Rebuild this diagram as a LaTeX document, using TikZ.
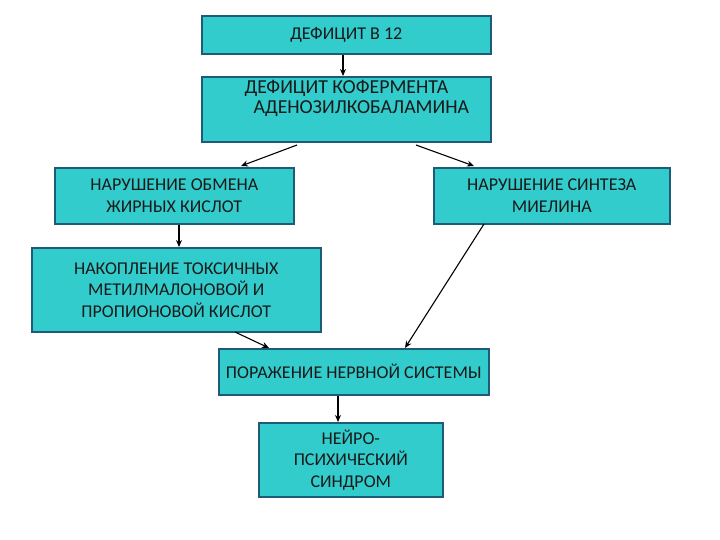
\documentclass[tikz,border=0pt]{standalone}
\usepackage{fontspec}
\setmainfont{Carlito}
\usetikzlibrary{arrows.meta}
\definecolor{boxfill}{HTML}{33CCCC}
\definecolor{boxline}{HTML}{1F5A78}
\tikzset{
  box/.style={draw=boxline, fill=boxfill, line width=1.6pt, inner sep=0pt, anchor=north west},
  txt/.style={align=center, font=\fontsize{18}{21.5}\selectfont, text=black!90},
  conn/.style={line width=1.1pt, -{Stealth[length=7pt,width=6pt]}}
}
\begin{document}
\begin{tikzpicture}[x=1pt,y=-1pt]
\useasboundingbox (0,0) rectangle (720,540);
\node[box, minimum width=289pt, minimum height=38pt] (b1) at (201,15) {};
\node[txt] (t1) at (b1.center) {ДЕФИЦИТ В 12};
\node[box, minimum width=289pt, minimum height=65pt] (b2) at (201,76) {};
\node[txt, align=left, font=\fontsize{19.8}{19.5}\selectfont, anchor=north west] (t2) at (241,77) {ДЕФИЦИТ КОФЕРМЕНТА\\\hspace*{9pt}АДЕНОЗИЛКОБАЛАМИНА};
\node[box, minimum width=239pt, minimum height=56pt] (b3) at (54,167) {};
\node[txt] (t3) at (b3.center) {НАРУШЕНИЕ ОБМЕНА\\ЖИРНЫХ КИСЛОТ};
\node[box, minimum width=236pt, minimum height=56pt] (b4) at (433,167) {};
\node[txt] (t4) at (b4.center) {НАРУШЕНИЕ СИНТЕЗА\\МИЕЛИНА};
\node[box, minimum width=289pt, minimum height=84pt] (b5) at (31,247) {};
\node[txt] (t5) at (b5.center) {НАКОПЛЕНИЕ ТОКСИЧНЫХ\\МЕТИЛМАЛОНОВОЙ И\\ПРОПИОНОВОЙ КИСЛОТ};
\node[box, minimum width=270pt, minimum height=46pt] (b6) at (218,348) {};
\node[txt] (t6) at (b6.center) {ПОРАЖЕНИЕ НЕРВНОЙ СИСТЕМЫ};
\node[box, minimum width=184pt, minimum height=74pt] (b7) at (258,422) {};
\node[txt] (t7) at (b7.center) {НЕЙРО-\\ПСИХИЧЕСКИЙ\\СИНДРОМ};
\coordinate (s2l) at (297,145);
\coordinate (s2r) at (416,145);
\draw[conn] (b1.south -| 343,0) -- (b2.north -| 343,0);
\draw[conn] (s2l) -- (241,166) coordinate (e2l);
\draw[conn] (s2r) -- (474,166) coordinate (e2r);
\draw[conn] (b3.south -| 179,0) -- (b5.north -| 179,0);
\draw[conn] (484,224) coordinate (s4) -- (405,348) coordinate (e4);
\draw[conn] (235,332) coordinate (s5) -- (269,348) coordinate (e5);
\draw[conn] (b6.south -| 338,0) -- (b7.north -| 338,0);
\end{tikzpicture}
\end{document}
